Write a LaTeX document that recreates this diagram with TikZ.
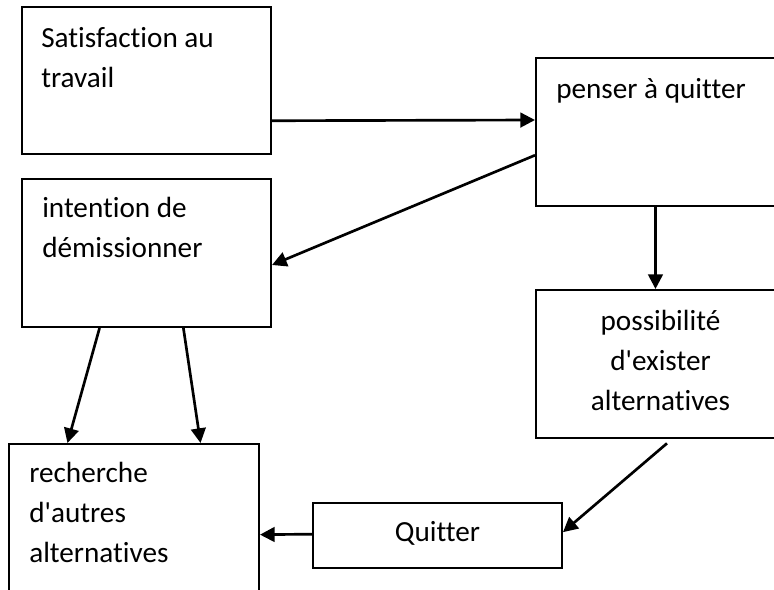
\documentclass[tikz,border=0pt]{standalone}
\usepackage{fontspec}
\setmainfont{Carlito}[Ligatures=NoCommon]
\usetikzlibrary{calc,positioning,fit,arrows.meta}
\tikzset{
  box/.style={draw,line width=1.5pt,inner sep=0pt,fit={#1}},
  label text/.style={inner sep=0pt,font=\fontsize{21.9pt}{30pt}\selectfont},
  flow/.style={line width=2pt,-{Triangle[length=11pt,width=11pt]}}
}

\begin{document}
\begin{tikzpicture}[x=0.75pt,y=-0.75pt]

\path[use as bounding box,fill=white] (0,0) rectangle (774,589);
\clip (0,0) rectangle (774,589);

% the boxes
\node[box={(22,7) (271,154)}] (sat) {};
\node[box={(536,58) (785,206)}] (pen) {};
\node[box={(22,179) (271,327)}] (int) {};
\node[box={(536,290) (785,438)}] (pos) {};
\node[box={(9,444) (259,600)}] (rec) {};
\node[box={(313,503) (562,568)}] (qui) {};

% their texts (base = last line)
\node[label text,anchor=base west,align=left] (satT) at ($(sat.north west)+(20,81)$) {Satisfaction au\\travail};
\node[label text,anchor=base west,align=left] (penT) at ($(pen.north west)+(21,41)$) {penser à quitter};
\node[label text,anchor=base west,align=left] (intT) at ($(int.north west)+(21,79)$) {intention de\\démissionner};
\node[label text,anchor=base,align=center] (posT) at ($(pos.north)+(0,121)$) {possibilité\\d\textquotesingle exister\\alternatives};
\node[label text,anchor=base west,align=left] (recT) at ($(rec.north west)+(21,119)$) {recherche\\d\textquotesingle autres\\alternatives};
\node[label text,anchor=base] (quiT) at ($(qui.north)+(0,39)$) {Quitter};

% the arrows
\draw[flow] ($(sat.north east)!.77!(sat.south east)$) -- ($(pen.north west)!.42!(pen.south west)$);
\draw[flow] ($(pen.north west)!.655!(pen.south west)$) -- ($(int.north east)!.58!(int.south east)$);
\draw[flow] ($(pen.south west)!.48!(pen.south east)$) -- ($(pos.north west)!.48!(pos.north east)$);
\draw[flow] ($(int.south west)!.313!(int.south east)$) -- ($(rec.north west)!.236!(rec.north east)$);
\draw[flow] ($(int.south west)!.647!(int.south east)$) -- ($(rec.north west)!.764!(rec.north east)$);
\draw[flow,shorten <=5pt] ($(pos.south west)!.546!(pos.south east)$) -- ($(qui.north east)!.45!(qui.south east)$);
\draw[flow] ($(qui.north west)!.48!(qui.south west)$) -- ($(rec.north east)!.58!(rec.south east)$);

\end{tikzpicture}
\end{document}
